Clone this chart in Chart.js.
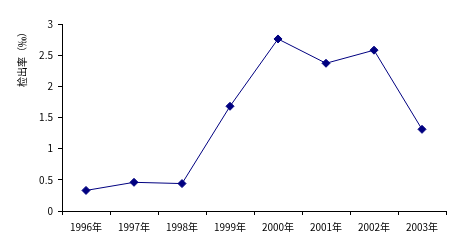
<!DOCTYPE html>
<html><head><meta charset="utf-8">
<script src="https://cdn.jsdelivr.net/npm/chart.js@4"></script>
<style>html,body{margin:0;padding:0;background:#fff}#wrap{width:460px;height:250px}</style>
</head><body><div id="wrap"><canvas id="c" width="460" height="250"></canvas></div>
<script>
const categories = ['1996年','1997年','1998年','1999年','2000年','2001年','2002年','2003年'];
const rates = [0.33, 0.46, 0.44, 1.68, 2.76, 2.37, 2.58, 1.31];
const yTicks = [0, 0.5, 1, 1.5, 2, 2.5, 3];
const yTitle = '检出率（‰）';

const FONT = '"Noto Sans CJK SC", "DejaVu Sans", sans-serif';
const titlePlugin = {
  id: 'ytitle',
  afterDraw(chart) {
    const ctx = chart.ctx;
    ctx.save();
    ctx.translate(22, 57);
    ctx.rotate(-Math.PI / 2);
    ctx.font = '10px ' + FONT;
    ctx.fillStyle = '#000';
    ctx.textAlign = 'center';
    ctx.textBaseline = 'middle';
    ctx.fillText(yTitle, 0, 0);
    ctx.restore();
  }
};

new Chart(document.getElementById('c'), {
  type: 'line',
  data: {
    labels: categories,
    datasets: [{
      data: rates,
      borderColor: '#000080',
      backgroundColor: '#000080',
      borderWidth: 1,
      pointStyle: 'rectRot',
      pointRadius: 4,
      pointBackgroundColor: '#000080',
      pointBorderColor: '#000080',
      tension: 0
    }]
  },
  options: {
    responsive: false,
    animation: false,
    devicePixelRatio: 1,
    layout: { padding: { left: 0, right: 14, top: 24, bottom: 0 } },
    plugins: { legend: { display: false }, tooltip: { enabled: false } },
    scales: {
      x: {
        offset: true,
        grid: { display: true, drawOnChartArea: false, drawTicks: true, tickLength: 4, offset: true, color: '#000' },
        border: { color: '#000', width: 1 },
        ticks: { color: '#000', font: { family: FONT, size: 10 }, padding: 6, maxRotation: 0, autoSkip: false },
        afterFit(s) { s.height = 39; }
      },
      y: {
        min: 0, max: 3,
        afterBuildTicks(s) { s.ticks = yTicks.map(v => ({ value: v })); },
        grid: { display: true, drawOnChartArea: false, drawTicks: true, tickLength: 4, color: '#000' },
        border: { color: '#000', width: 1 },
        ticks: { color: '#000', font: { family: FONT, size: 10 }, padding: 5, callback: v => String(v) },
        afterFit(s) { s.width = 62; }
      }
    }
  },
  plugins: [titlePlugin]
});
</script></body></html>
